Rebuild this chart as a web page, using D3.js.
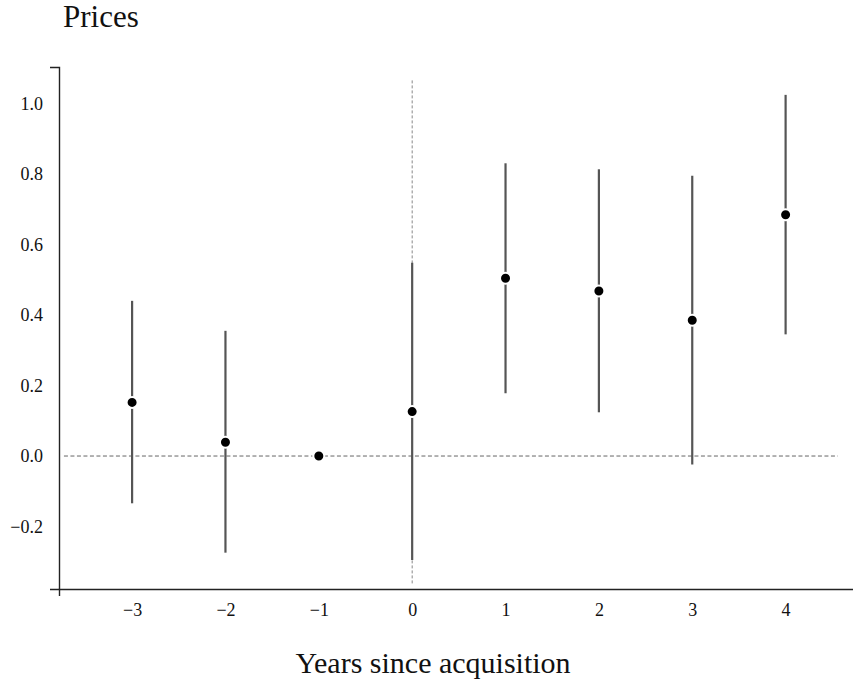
<!DOCTYPE html>
<html>
<head>
<meta charset="utf-8">
<script src="https://cdn.jsdelivr.net/npm/d3@7"></script>
<style>
  body { margin: 0; background: #fff; }
  text { font-family: "Liberation Serif", "DejaVu Serif", serif; }
</style>
</head>
<body>
<script>
"use strict";

// years relative to acquisition, point estimate and interval
const years = [-3, -2, -1, 0, 1, 2, 3, 4];
const estimate = [0.152, 0.039, 0.0, 0.126, 0.504, 0.468, 0.385, 0.684];
const lower = [-0.134, -0.274, 0.0, -0.295, 0.178, 0.124, -0.024, 0.345];
const upper = [0.44, 0.355, 0.0, 0.548, 0.83, 0.813, 0.795, 1.024];
const yTicks = [-0.2, 0.0, 0.2, 0.4, 0.6, 0.8, 1.0];

const width = 853, height = 684;
const plotLeft = 59, plotRight = 870, plotTop = 67, plotBottom = 589;

let svg = d3
  .select("body")
  .append("svg")
  .attr("width", width)
  .attr("height", height);

const x = d3.scaleLinear().domain([-3.783, 4.904]).range([plotLeft, plotRight]);
const y = d3.scaleLinear().domain([-0.377, 1.103]).range([plotBottom, plotTop]);

// reference lines
svg.append("line")
  .attr("x1", x(-3.73)).attr("x2", x(4.56))
  .attr("y1", y(0)).attr("y2", y(0))
  .attr("stroke", "#666")
  .attr("stroke-width", 1)
  .attr("stroke-dasharray", "4,2.5");

svg.append("line")
  .attr("x1", x(0)).attr("x2", x(0))
  .attr("y1", y(1.065)).attr("y2", y(-0.363))
  .attr("stroke", "#888")
  .attr("stroke-width", 1)
  .attr("stroke-dasharray", "3,2");

// axes
let yAxis = svg.append("g")
  .attr("transform", `translate(${plotLeft},0)`)
  .call(d3.axisLeft(y).tickValues(yTicks).tickFormat(d3.format(".1f"))
    .tickSizeInner(0).tickSizeOuter(9).tickPadding(16));

let xAxis = svg.append("g")
  .attr("transform", `translate(0,${plotBottom})`)
  .call(d3.axisBottom(x).tickValues(years).tickFormat(d3.format("d"))
    .tickSizeInner(0).tickSizeOuter(7).tickPadding(14));

[yAxis, xAxis].forEach(g => {
  g.attr("font-size", null).attr("font-family", null);
  g.select(".domain").attr("stroke", "#222").attr("stroke-width", 1.4);
  g.selectAll("text")
    .style("font-family", "'Liberation Serif', serif")
    .style("font-size", "18px")
    .attr("fill", "#111");
});

// intervals
let rows = years.map((yr, i) => ({ yr, est: estimate[i], lo: lower[i], hi: upper[i] }));

svg.append("g")
  .selectAll("line")
  .data(rows)
  .enter()
  .append("line")
  .attr("x1", d => x(d.yr))
  .attr("x2", d => x(d.yr))
  .attr("y1", d => y(d.lo))
  .attr("y2", d => y(d.hi))
  .attr("stroke", "#555")
  .attr("stroke-width", 2.2);

svg.append("g")
  .selectAll("circle")
  .data(rows)
  .enter()
  .append("circle")
  .attr("cx", d => x(d.yr))
  .attr("cy", d => y(d.est))
  .attr("r", 5.5)
  .attr("fill", "#000")
  .attr("stroke", "#fff")
  .attr("stroke-width", 2);

// titles
svg.append("text")
  .attr("x", 63)
  .attr("y", 27)
  .style("font-size", "31px")
  .attr("fill", "#111")
  .text("Prices");

svg.append("text")
  .attr("x", 433)
  .attr("y", 673)
  .attr("text-anchor", "middle")
  .style("font-size", "30px")
  .attr("fill", "#111")
  .text("Years since acquisition");
</script>
</body>
</html>
